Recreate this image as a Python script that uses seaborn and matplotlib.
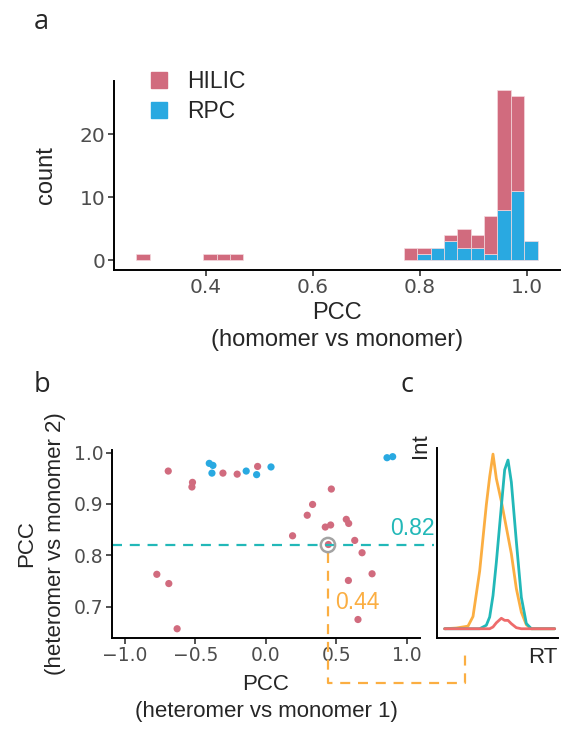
import matplotlib
matplotlib.use("Agg")
import matplotlib.pyplot as plt
from matplotlib.lines import Line2D
import seaborn as sns
import pandas as pd

# panel a: histogram of PCC (bin centres, stacked counts)
hist_pcc = [0.2825, 0.4075, 0.4325, 0.4575, 0.7825, 0.8075, 0.8325, 0.8575,
            0.8825, 0.9075, 0.9325, 0.9575, 0.9825, 1.0075]
hilic_counts = [1, 1, 1, 1, 2, 1, 0, 1, 3, 2, 6, 19, 15, 0]
rpc_counts = [0, 0, 0, 0, 0, 1, 2, 3, 2, 2, 1, 8, 11, 3]
methods = ["HILIC", "RPC"]

# panel b: heteromer vs monomer PCC
hilic_x = [-0.693, -0.521, -0.525, -0.305, -0.204, -0.059, 0.464, 0.331, 0.293,
           0.189, 0.421, 0.459, 0.570, 0.587, 0.443, 0.630, 0.682, 0.753, 0.585,
           0.653, -0.774, -0.689, -0.630]
hilic_y = [0.964, 0.942, 0.933, 0.960, 0.958, 0.973, 0.929, 0.899, 0.878,
           0.838, 0.855, 0.859, 0.870, 0.862, 0.821, 0.829, 0.805, 0.764, 0.751,
           0.675, 0.763, 0.745, 0.657]
rpc_x = [-0.402, -0.376, -0.383, -0.140, -0.066, 0.036, 0.859, 0.899]
rpc_y = [0.979, 0.975, 0.960, 0.964, 0.957, 0.972, 0.990, 0.992]
sel_x, sel_y = 0.44, 0.82

# panel c: chromatograms
rt = [0, 3.5, 7, 8.5, 10.5, 12.5, 13.5, 14.5, 15.5, 17, 18, 19, 20, 21.5,
      23, 24.5, 26, 28.5, 33]
int_monomer1 = [0, 0.004, 0.015, 0.07, 0.33, 0.71, 0.87, 1.0, 0.86, 0.73,
                0.63, 0.53, 0.43, 0.23, 0.095, 0.023, 0, 0, 0]
int_monomer2 = [0, 0, 0, 0, 0, 0.02, 0.067, 0.19, 0.38, 0.70, 0.91, 0.966,
                0.84, 0.50, 0.18, 0.03, 0, 0, 0]
int_heteromer = [0, 0, 0, 0, 0, 0, 0, 0.01, 0.034, 0.06, 0.048, 0.048, 0.029,
                 0.006, 0, 0, 0, 0, 0]

pink = "#D16B7E"
blue = "#29A9E1"
orange = "#FBAE42"
teal = "#22B8B8"
red = "#EE6B6B"
grey_txt = "#4D4D4D"

sns.set_style("ticks")
plt.rcParams["font.family"] = ["Liberation Sans", "DejaVu Sans"]

fig = plt.figure(figsize=(5.61, 7.29), dpi=100)
W, H = 561, 729


def box(l, t, r, b):
    return [l / W, 1 - b / H, (r - l) / W, (b - t) / H]


ax_a = fig.add_axes(box(114, 81, 560, 269.5))
ax_b = fig.add_axes(box(112, 450, 420, 638))
ax_c = fig.add_axes(box(437, 448, 558, 638))

# ---- a ----
hist_df = pd.DataFrame({
    "PCC": hist_pcc + hist_pcc,
    "count": hilic_counts + rpc_counts,
    "method": ["HILIC"] * len(hist_pcc) + ["RPC"] * len(hist_pcc),
})
sns.histplot(data=hist_df, x="PCC", weights="count", hue="method",
             hue_order=methods, palette=[pink, blue], binwidth=0.025,
             binrange=(0.27, 1.02), multiple="stack", alpha=1,
             edgecolor="#F4D9DE", linewidth=0.5, legend=False, ax=ax_a)
# empty bins should not leave a line on the baseline
for p in ax_a.patches:
    if p.get_height() == 0:
        p.set_visible(False)
ax_a.set_xlim(0.228, 1.062)
ax_a.set_ylim(-1.45, 28.4)
ax_a.set_xticks([0.4, 0.6, 0.8, 1.0])
ax_a.set_yticks([0, 10, 20])
ax_a.set_xlabel("PCC\n(homomer vs monomer)", fontsize=17, linespacing=1.35)
ax_a.xaxis.set_label_coords(0.5, -0.17)
ax_a.xaxis.label.set_va("top")
ax_a.set_ylabel("count", fontsize=17)
ax_a.yaxis.set_label_coords(-0.128, 0.5)
handles = [Line2D([], [], marker="s", ls="", color=c, markersize=11)
           for c in (pink, blue)]
ax_a.legend(handles, methods, loc="upper left",
            bbox_to_anchor=(150 / W, 1 - 70 / H), bbox_transform=fig.transFigure,
            frameon=False, fontsize=16.5, handlelength=0.8, handletextpad=0.8,
            labelspacing=0.3, borderpad=0, borderaxespad=0)

# ---- b ----
scat_df = pd.DataFrame({
    "x": hilic_x + rpc_x,
    "y": hilic_y + rpc_y,
    "method": ["HILIC"] * len(hilic_x) + ["RPC"] * len(rpc_x),
})
sns.scatterplot(data=scat_df, x="x", y="y", hue="method", hue_order=methods,
                palette=[pink, blue], s=27, linewidth=0, legend=False, ax=ax_b)
ax_b.scatter([sel_x], [sel_y], s=105, facecolors="none", edgecolors="#A3A3A3",
             linewidths=1.8, zorder=5)
ax_b.set_xlim(-1.092, 1.093)
ax_b.set_ylim(0.639, 1.005)
ax_b.set_xticks([-1.0, -0.5, 0.0, 0.5, 1.0])
ax_b.set_yticks([0.7, 0.8, 0.9, 1.0])
ax_b.set_xlabel("PCC\n(heteromer vs monomer 1)", fontsize=16, linespacing=1.4)
ax_b.xaxis.set_label_coords(0.5, -0.19)
ax_b.xaxis.label.set_va("top")
ax_b.set_ylabel("PCC\n(heteromer vs monomer 2)", fontsize=16, linespacing=1.5)
ax_b.yaxis.set_label_coords(-0.15, 0.5)
# guide lines to panel c
ax_b.plot([-1.092, 1.19], [sel_y, sel_y], ls=(0, (4.5, 3.5)), lw=1.6,
          color=teal, clip_on=False, zorder=1)
ax_b.plot([sel_x, sel_x, 1.415, 1.415], [0.805, 0.551, 0.551, 0.615],
          ls=(0, (4.5, 3.5)), lw=1.6, color=orange, clip_on=False, zorder=1)
ax_b.text(0.88, 0.829, "0.82", color=teal, fontsize=16.5, ha="left",
          va="bottom")
ax_b.text(0.49, 0.709, "0.44", color=orange, fontsize=16.5, ha="left",
          va="center")

# ---- c ----
chrom_df = pd.DataFrame({
    "RT": rt * 3,
    "Int": int_monomer1 + int_monomer2 + int_heteromer,
    "trace": ["monomer 1"] * len(rt) + ["monomer 2"] * len(rt)
             + ["heteromer"] * len(rt),
})
sns.lineplot(data=chrom_df, x="RT", y="Int", hue="trace",
             palette=[orange, teal, red], lw=2.0, legend=False, ax=ax_c)
ax_c.set_xlim(-2.3, 34)
ax_c.set_ylim(-0.053, 1.035)
ax_c.set_xticks([])
ax_c.set_yticks([])
ax_c.set_xlabel("")
ax_c.set_ylabel("")
fig.text(431 / W, 1 - 433 / H, "Int", rotation=90, ha="right", va="top",
         fontsize=16)
fig.text(558 / W, 1 - 647 / H, "RT", ha="right", va="top", fontsize=16)

for ax, fs in ((ax_a, 14.5), (ax_b, 13.5), (ax_c, 13)):
    sns.despine(ax=ax)
    for s in ("left", "bottom"):
        ax.spines[s].set_linewidth(1.4)
        ax.spines[s].set_color("black")
    ax.tick_params(length=4, width=1.2, color="#333333", labelsize=fs,
                   labelcolor=grey_txt, pad=2)
    for lab in ax.get_xticklabels() + ax.get_yticklabels():
        lab.set_fontfamily("DejaVu Sans")

letter_font = ["Open Sans", "DejaVu Sans"]
for x, y, t in ((34, 8, "a"), (34, 371, "b"), (400, 371, "c")):
    fig.text(x / W, 1 - y / H, t, fontsize=19.5, ha="left", va="top",
             family=letter_font)

fig.savefig("out.png", dpi=100)
